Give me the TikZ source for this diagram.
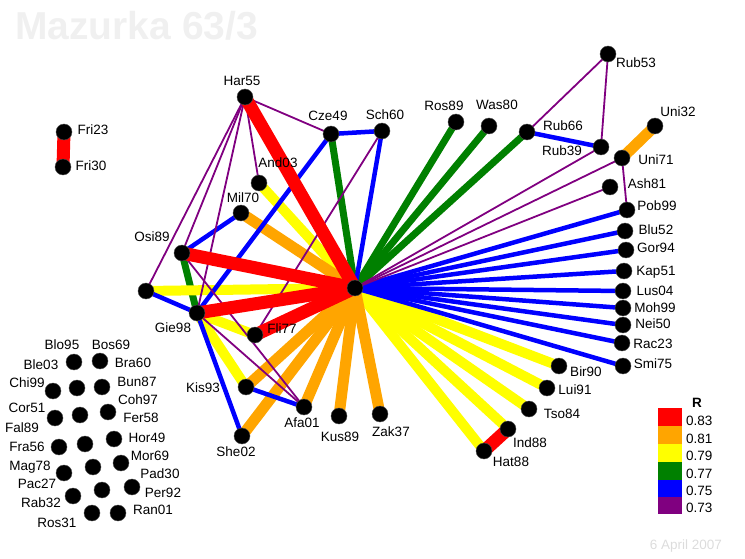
\documentclass[tikz,border=0pt]{standalone}
\usepackage{fontspec}
\setmainfont{Liberation Sans}
\pgfdeclarelayer{bg}
\pgfsetlayers{bg,main}
\definecolor{cred}{HTML}{FF0000}
\definecolor{corange}{HTML}{FFA500}
\definecolor{cyellow}{HTML}{FFFF00}
\definecolor{cgreen}{HTML}{008000}
\definecolor{cblue}{HTML}{0000FF}
\definecolor{cpurple}{HTML}{800080}
\definecolor{ctitle}{HTML}{F0F0F0}
\definecolor{cdate}{HTML}{DCDCDC}
\newcommand\lblfont{\fontsize{13.5}{15}\selectfont}
\tikzset{
  dot/.style={circle, fill=black, draw=black!70, line width=0.4pt, inner sep=0pt, minimum size=16pt},
  lbl/.style={inner sep=0pt, font=\lblfont, text height=9.7pt, text depth=0pt},
  lgl/.style={inner sep=0pt, font=\lblfont, text height=9.7pt, text depth=0pt, anchor=west},
  ered/.style={draw=cred, line width=13pt},
  eorange/.style={draw=corange, line width=11pt},
  eyellow/.style={draw=cyellow, line width=10pt},
  egreen/.style={draw=cgreen, line width=7pt},
  eblue/.style={draw=cblue, line width=4.5pt},
  epurple/.style={draw=cpurple, line width=1.8pt},
}
\begin{document}
\begin{tikzpicture}[x=1pt,y=-1pt]
\useasboundingbox (0,0) rectangle (745,559);
% title and date
\node[anchor=base west, inner sep=0pt, text=ctitle, font=\fontsize{39}{41}\selectfont\bfseries] (title) at (15,40) {Mazurka 63/3};
\node[anchor=base east, inner sep=0pt, text=cdate, font=\lblfont] (date) at (722,549) {6 April 2007};
% main nodes
\node[dot] (cen) at (355,288) {};
\node[dot] (har) at (245,97) {};
\node[dot] (cze) at (331,134) {};
\node[dot] (sch) at (382,131) {};
\node[dot] (and) at (259,183) {};
\node[dot] (mil) at (241,213) {};
\node[dot] (osi) at (182,253) {};
\node[dot] (unl) at (146,291) {};
\node[dot] (gie) at (197,313) {};
\node[dot] (fli) at (255,335) {};
\node[dot] (kis) at (246,387) {};
\node[dot] (she) at (242,436) {};
\node[dot] (afa) at (304,407) {};
\node[dot] (kus) at (339,416) {};
\node[dot] (zak) at (380,414) {};
\node[dot] (hat) at (484,451) {};
\node[dot] (ind) at (508,429) {};
\node[dot] (tso) at (529,409) {};
\node[dot] (lui) at (547,388) {};
\node[dot] (bir) at (559,366) {};
\node[dot] (smi) at (623,366) {};
\node[dot] (rac) at (622,343) {};
\node[dot] (nei) at (623,325) {};
\node[dot] (moh) at (623,308) {};
\node[dot] (lus) at (623,291) {};
\node[dot] (kap) at (624,271) {};
\node[dot] (gor) at (626,250) {};
\node[dot] (blu) at (625,231) {};
\node[dot] (pob) at (627,210) {};
\node[dot] (ash) at (610,187) {};
\node[dot] (unis) at (622,158) {};
\node[dot] (unit) at (655,126) {};
\node[dot] (rubn) at (601,147) {};
\node[dot] (rubf) at (608,54) {};
\node[dot] (rubs) at (527,132) {};
\node[dot] (was) at (489,126) {};
\node[dot] (ros) at (456,122) {};
\node[dot] (frit) at (64,132) {};
\node[dot] (frio) at (63,167) {};
% isolated nodes
\node[dot] (i1) at (74,362) {};
\node[dot] (i2) at (100,361) {};
\node[dot] (i3) at (53,391) {};
\node[dot] (i4) at (77,388) {};
\node[dot] (i5) at (102,387) {};
\node[dot] (i6) at (55,418) {};
\node[dot] (i7) at (80,415) {};
\node[dot] (i8) at (108,412) {};
\node[dot] (i9) at (59,447) {};
\node[dot] (i10) at (85,444) {};
\node[dot] (i11) at (114,439) {};
\node[dot] (i12) at (64,473) {};
\node[dot] (i13) at (93,467) {};
\node[dot] (i14) at (121,463) {};
\node[dot] (i15) at (73,496) {};
\node[dot] (i16) at (102,490) {};
\node[dot] (i17) at (132,487) {};
\node[dot] (i18) at (92,513) {};
\node[dot] (i19) at (118,513) {};
% labels
\node[lbl] (Lhar) at (242,81) {Har55};
\node[lbl] (Lcze) at (328,116) {Cze49};
\node[lbl] (Lsch) at (385,115) {Sch60};
\node[lbl] (Land) at (278,163) {And03};
\node[lbl] (Lmil) at (243,198) {Mil70};
\node[lbl] (Losi) at (152,237) {Osi89};
\node[lbl] (Lgie) at (173,328) {Gie98};
\node[lbl] (Lfli) at (282,329) {Fli77};
\node[lbl] (Lkis) at (203,388) {Kis93};
\node[lbl] (Lshe) at (236,452) {She02};
\node[lbl] (Lafa) at (302,423) {Afa01};
\node[lbl] (Lkus) at (340,437) {Kus89};
\node[lbl] (Lzak) at (391,432) {Zak37};
\node[lbl] (Lhat) at (511,462) {Hat88};
\node[lbl] (Lind) at (530,443) {Ind88};
\node[lbl] (Ltso) at (562,414) {Tso84};
\node[lbl] (Llui) at (575,390) {Lui91};
\node[lbl] (Lbir) at (586,372) {Bir90};
\node[lbl] (Lsmi) at (653,364) {Smi75};
\node[lbl] (Lrac) at (653,344) {Rac23};
\node[lbl] (Lnei) at (653,324) {Nei50};
\node[lbl] (Lmoh) at (655,308) {Moh99};
\node[lbl] (Llus) at (655,291) {Lus04};
\node[lbl] (Lkap) at (656,271) {Kap51};
\node[lbl] (Lgor) at (656,248) {Gor94};
\node[lbl] (Lblu) at (656,230) {Blu52};
\node[lbl] (Lpob) at (657,206) {Pob99};
\node[lbl] (Lash) at (647,184) {Ash81};
\node[lbl] (Lunis) at (656,160) {Uni71};
\node[lbl] (Lunit) at (678,112) {Uni32};
\node[lbl] (Lrubn) at (562,151) {Rub39};
\node[lbl] (Lrubs) at (563,126) {Rub66};
\node[lbl] (Lrubf) at (636,63) {Rub53};
\node[lbl] (Lwas) at (497,105) {Was80};
\node[lbl] (Lros) at (444,106) {Ros89};
\node[lbl] (Lfrit) at (93,130) {Fri23};
\node[lbl] (Lfrio) at (91,166) {Fri30};
\node[lbl] (Li1) at (62,345) {Blo95};
\node[lbl] (Li2) at (111,345) {Bos69};
\node[lbl] (Li3) at (133,363) {Bra60};
\node[lbl] (Li4) at (41,365) {Ble03};
\node[lbl] (Li5) at (27,383) {Chi99};
\node[lbl] (Li6) at (137,382) {Bun87};
\node[lbl] (Li7) at (138,400) {Coh97};
\node[lbl] (Li8) at (27,408) {Cor51};
\node[lbl] (Li9) at (141,418) {Fer58};
\node[lbl] (Li10) at (22,428) {Fal89};
\node[lbl] (Li11) at (147,438) {Hor49};
\node[lbl] (Li12) at (27,447) {Fra56};
\node[lbl] (Li13) at (150,456) {Mor69};
\node[lbl] (Li14) at (30,466) {Mag78};
\node[lbl] (Li15) at (160,474) {Pad30};
\node[lbl] (Li16) at (37,484) {Pac27};
\node[lbl] (Li17) at (163,493) {Per92};
\node[lbl] (Li18) at (41,503) {Rab32};
\node[lbl] (Li19) at (153,510) {Ran01};
\node[lbl] (Li20) at (57,523) {Ros31};
% legend
\node[inner sep=0pt, font=\lblfont\bfseries] (legR) at (697,403) {R};
\fill[cred] (658,408) rectangle (682,426);
\fill[corange] (658,426) rectangle (682,444);
\fill[cyellow] (658,444) rectangle (682,462);
\fill[cgreen] (658,462) rectangle (682,480);
\fill[cblue] (658,480) rectangle (682,497);
\fill[cpurple] (658,497) rectangle (682,514);
\node[lgl] (l1) at (686,421) {0.83};
\node[lgl] (l2) at (686,439) {0.81};
\node[lgl] (l3) at (686,456) {0.79};
\node[lgl] (l4) at (686,474) {0.77};
\node[lgl] (l5) at (686,491) {0.75};
\node[lgl] (l6) at (686,508) {0.73};
% edges
\begin{pgfonlayer}{bg}
\foreach \t in {cze,ros,was,rubs} \draw[egreen] (cen.center) -- (\t.center);
\draw[egreen] (osi.center) -- (gie.center);
\foreach \t in {and,unl,bir,lui,tso,ind,hat} \draw[eyellow] (cen.center) -- (\t.center);
\draw[eyellow] (gie.center) -- (kis.center);
\draw[eyellow] (gie.center) -- (fli.center);
\foreach \t in {mil,kis,she,afa,kus,zak} \draw[eorange] (cen.center) -- (\t.center);
\draw[eorange] (unis.center) -- (unit.center);
\foreach \t in {sch,pob,blu,gor,kap,lus,moh,nei,rac,smi} \draw[eblue] (cen.center) -- (\t.center);
\draw[eblue] (cze.center) -- (sch.center);
\draw[eblue] (cze.center) -- (gie.center);
\draw[eblue] (osi.center) -- (mil.center);
\draw[eblue] (unl.center) -- (gie.center);
\draw[eblue] (gie.center) -- (she.center);
\draw[eblue] (kis.center) -- (afa.center);
\draw[eblue] (rubs.center) -- (rubn.center);
\foreach \t in {rubn,unis,ash} \draw[epurple] (cen.center) -- (\t.center);
\foreach \t in {cze,and,unl,osi,gie} \draw[epurple] (har.center) -- (\t.center);
\draw[epurple] (sch.center) -- (fli.center);
\draw[epurple] (osi.center) -- (afa.center);
\draw[epurple] (gie.center) -- (afa.center);
\draw[epurple] (rubs.center) -- (rubf.center);
\draw[epurple] (rubf.center) -- (rubn.center);
\draw[epurple] (unis.center) -- (pob.center);
\foreach \t in {har,osi,gie,fli} \draw[ered] (cen.center) -- (\t.center);
\draw[ered] (frit.center) -- (frio.center);
\draw[ered] (ind.center) -- (hat.center);
\end{pgfonlayer}
\end{tikzpicture}
\end{document}
